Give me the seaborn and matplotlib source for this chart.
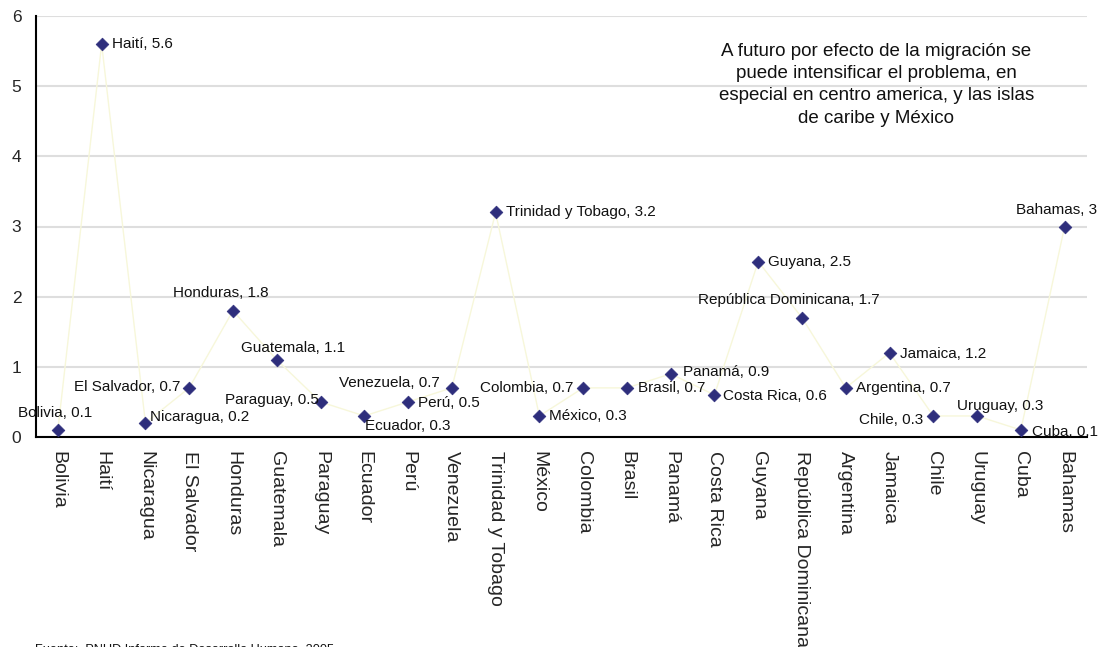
import matplotlib
matplotlib.use("Agg")
import matplotlib.pyplot as plt
import seaborn as sns
import pandas as pd

# ---- data ----
paises = ["Bolivia", "Haití", "Nicaragua", "El Salvador", "Honduras", "Guatemala",
          "Paraguay", "Ecuador", "Perú", "Venezuela", "Trinidad y Tobago", "México",
          "Colombia", "Brasil", "Panamá", "Costa Rica", "Guyana",
          "República Dominicana", "Argentina", "Jamaica", "Chile", "Uruguay",
          "Cuba", "Bahamas"]
valores = [0.1, 5.6, 0.2, 0.7, 1.8, 1.1, 0.5, 0.3, 0.5, 0.7, 3.2, 0.3,
           0.7, 0.7, 0.9, 0.6, 2.5, 1.7, 0.7, 1.2, 0.3, 0.3, 0.1, 3.0]
etiquetas_valor = ["0.1", "5.6", "0.2", "0.7", "1.8", "1.1", "0.5", "0.3", "0.5", "0.7",
                   "3.2", "0.3", "0.7", "0.7", "0.9", "0.6", "2.5", "1.7", "0.7", "1.2",
                   "0.3", "0.3", "0.1", "3"]
y_ticks = [0, 1, 2, 3, 4, 5, 6]
nota = ("A futuro por efecto de la migración se\npuede intensificar el problema, en\n"
        "especial en centro america, y las islas\nde caribe y México")
fuente = "Fuente:  PNUD Informe de Desarrollo Humano, 2005"

# ---- label placement (pixel offsets, horizontal alignment) ----
label_layout = [
    (-3, 17, "center"), (10, 0, "left"), (5, 6, "left"), (-9, 1, "right"),
    (-12, 18, "center"), (16, 12, "center"), (-2, 2, "right"), (1, -10, "left"),
    (10, -1, "left"), (-12, 5, "right"), (10, 0, "left"), (10, 0, "left"),
    (-10, 0, "right"), (11, 0, "left"), (12, 2, "left"), (9, -1, "left"),
    (10, 0, "left"), (-13, 18, "center"), (10, 0, "left"), (10, -1, "left"),
    (-10, -4, "right"), (-20, 10, "left"), (11, -2, "left"), (-8, 17, "center"),
]

df = pd.DataFrame({"pais": paises, "valor": valores, "pos": range(len(paises))})

sns.set_style("white")
plt.rcParams["font.family"] = ["Liberation Sans", "DejaVu Sans"]

fig = plt.figure(figsize=(10.99, 6.47), dpi=100)
ax = fig.add_axes([36 / 1099, 1 - 437 / 647, (1086.5 - 36) / 1099, (437 - 16) / 647])

sns.lineplot(data=df, x="pos", y="valor", ax=ax, color="#F7F7DA", linewidth=1.0,
             zorder=2)
sns.scatterplot(data=df, x="pos", y="valor", ax=ax, marker="D", color="#2E2E7C",
                s=42, edgecolor="#2E2E7C", linewidth=0.5, zorder=3)

for i, (p, v, lab) in enumerate(zip(paises, valores, etiquetas_valor)):
    dx, dy, ha = label_layout[i]
    ax.annotate(f"{p}, {lab}", (i, v), xytext=(dx, dy), textcoords="offset pixels",
                ha=ha, va="center", fontsize=11, color="#111111", zorder=4)

ax.text(18.7, 5.02, nota, ha="center", va="center", fontsize=13.5,
        linespacing=1.4, color="#111111")

ax.set_xlim(-0.5, len(paises) - 0.5)
ax.set_ylim(0, 6)
ax.set_yticks(y_ticks)
ax.set_yticklabels([str(t) for t in y_ticks], fontsize=12.5)
ax.set_xticks(range(len(paises)))
ax.set_xticklabels(paises, rotation=-90, fontsize=14, ha="center", va="top")
ax.set_xticks([i - 0.5 for i in range(len(paises) + 1)], minor=True)
ax.tick_params(axis="x", which="major", length=0, pad=10)
ax.tick_params(axis="x", which="minor", length=5, width=1.3, color="black",
               direction="out")
ax.tick_params(axis="y", length=5.5, width=1.3, color="black", direction="out", pad=5)
ax.set_xlabel("")
ax.set_ylabel("")

ax.grid(axis="y", color="#DEDEDE", linewidth=1.5)
ax.set_axisbelow(True)
for s in ["top", "right"]:
    ax.spines[s].set_visible(False)
for s in ["left", "bottom"]:
    ax.spines[s].set_color("black")
    ax.spines[s].set_linewidth(1.5)

fig.text(35 / 1099, -5 / 647, fuente, fontsize=9.2, va="baseline", ha="left",
         color="#111111")

fig.savefig("out.png", dpi=100)
